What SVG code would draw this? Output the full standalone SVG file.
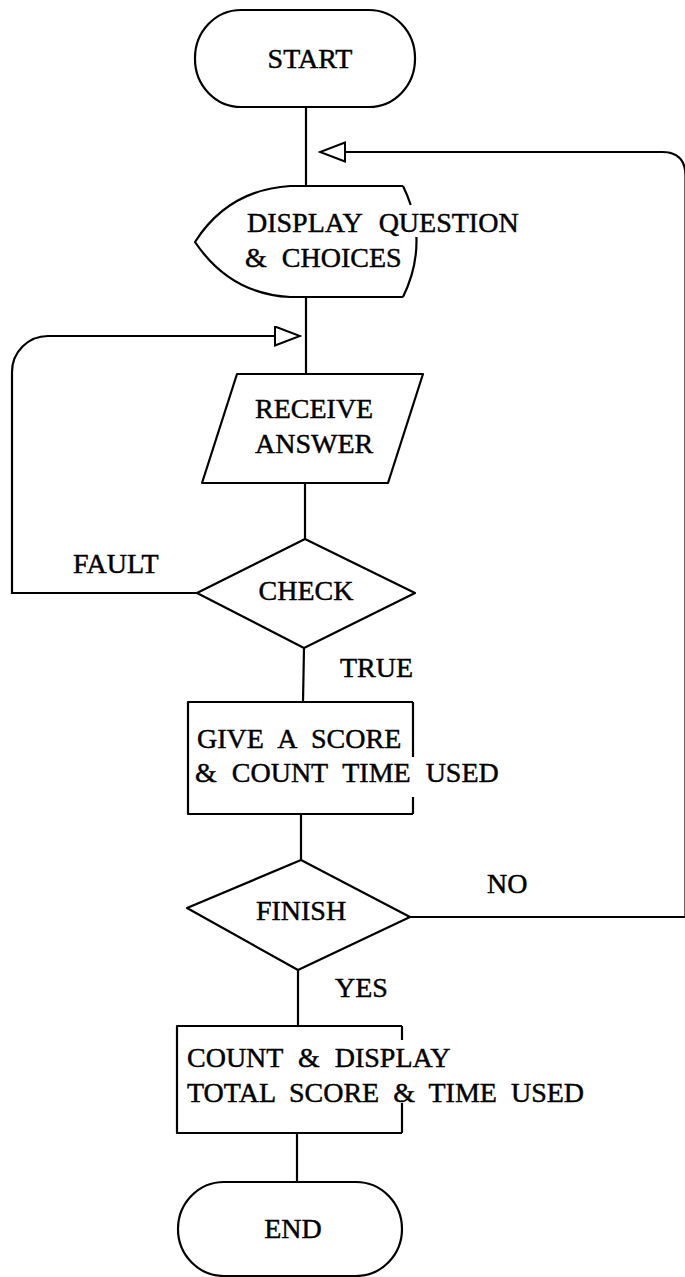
<svg xmlns="http://www.w3.org/2000/svg" width="685" height="1277" viewBox="0 0 685 1277">
  <style>
    .shape { fill: #ffffff; stroke: #000000; stroke-width: 2.2; stroke-linejoin: round; }
    .edge { fill: none; stroke: #000000; stroke-width: 2.2; stroke-linejoin: round; }
    .flow { fill: none; stroke: #000000; stroke-width: 2.2; }
    text { font-family: "Liberation Serif", "Times New Roman", serif; font-size: 28px; fill: #000000; stroke: #000000; stroke-width: 0.45px; word-spacing: 8px; }
    .c { text-anchor: middle; }
  </style>
  <defs>
    <marker id="openArrow" markerUnits="userSpaceOnUse" markerWidth="28" markerHeight="22" viewBox="-1 -1 28 22" refX="25" refY="9.5" orient="auto">
      <path d="M0,0 L25,9.5 L0,19 Z" fill="#ffffff" stroke="#000000" stroke-width="2"/>
    </marker>
  </defs>
  <rect width="685" height="1277" fill="#ffffff"/>

  <!-- connectors -->
  <g id="connectors">
    <line class="flow" x1="306" y1="107" x2="306" y2="186"/>
    <line class="flow" x1="306" y1="297" x2="306" y2="374"/>
    <line class="flow" x1="305" y1="483" x2="305" y2="539"/>
    <line class="flow" x1="304" y1="648" x2="303" y2="702"/>
    <line class="flow" x1="301" y1="814" x2="301" y2="860"/>
    <line class="flow" x1="298" y1="970" x2="298" y2="1026"/>
    <line class="flow" x1="297" y1="1133" x2="297" y2="1182"/>
    <!-- NO: back to the question display -->
    <path class="flow" d="M410,917 L685.5,917 L685.5,176 Q685.5,152 662,152 L320,152" marker-end="url(#openArrow)"/>
    <!-- FAULT: back to answer input -->
    <path class="flow" d="M197,593 L12,593 L12,372 A36,36 0 0 1 48,336 L300,336" marker-end="url(#openArrow)"/>
    <text x="73" y="573">FAULT</text>
    <text x="340" y="677">TRUE</text>
    <text x="487" y="893">NO</text>
    <text x="335" y="997">YES</text>
  </g>

  <g id="start">
    <rect class="shape" x="195" y="10" width="220" height="97" rx="46" ry="48"/>
    <text class="c" x="310" y="68">START</text>
  </g>

  <g id="display-question">
    <path class="shape" d="M403,186 L290,186 Q228,190 195,242 Q230,294 290,297 L403,297"/>
    <path class="edge" d="M403,186 Q407.6,195.5 410.7,205"/>
    <path class="edge" d="M416.4,237 Q417.6,267 403,297"/>
    <text x="247" y="232" style="word-spacing:10px">DISPLAY QUESTION</text>
    <text x="245" y="267">&amp; CHOICES</text>
  </g>

  <g id="receive-answer">
    <polygon class="shape" points="237,374 423,374 388,483 202,483"/>
    <text x="255" y="418">RECEIVE</text>
    <text x="255" y="453">ANSWER</text>
  </g>

  <g id="check">
    <polygon class="shape" points="305,539 415,593 304,648 197,593"/>
    <text class="c" x="306" y="600">CHECK</text>
  </g>

  <g id="give-score">
    <path class="shape" d="M413,702 L188,702 L188,814 L413,814"/>
    <line class="edge" x1="413" y1="702" x2="413" y2="757"/>
    <line class="edge" x1="413" y1="797" x2="413" y2="814"/>
    <text x="197" y="748">GIVE A SCORE</text>
    <text x="195" y="782">&amp; COUNT TIME USED</text>
  </g>

  <g id="finish">
    <polygon class="shape" points="301,860 410,917 298,970 187,908"/>
    <text class="c" x="301" y="920">FINISH</text>
  </g>

  <g id="count-total">
    <path class="shape" d="M402,1026 L177,1026 L177,1133 L402,1133"/>
    <line class="edge" x1="402" y1="1026" x2="402" y2="1040"/>
    <line class="edge" x1="402" y1="1103" x2="402" y2="1133"/>
    <text x="187" y="1067">COUNT &amp; DISPLAY</text>
    <text x="187" y="1102" style="word-spacing:7px">TOTAL SCORE &amp; TIME USED</text>
  </g>

  <g id="end">
    <rect class="shape" x="178" y="1182" width="224" height="94" rx="46" ry="47"/>
    <text class="c" x="293" y="1238">END</text>
  </g>
</svg>
